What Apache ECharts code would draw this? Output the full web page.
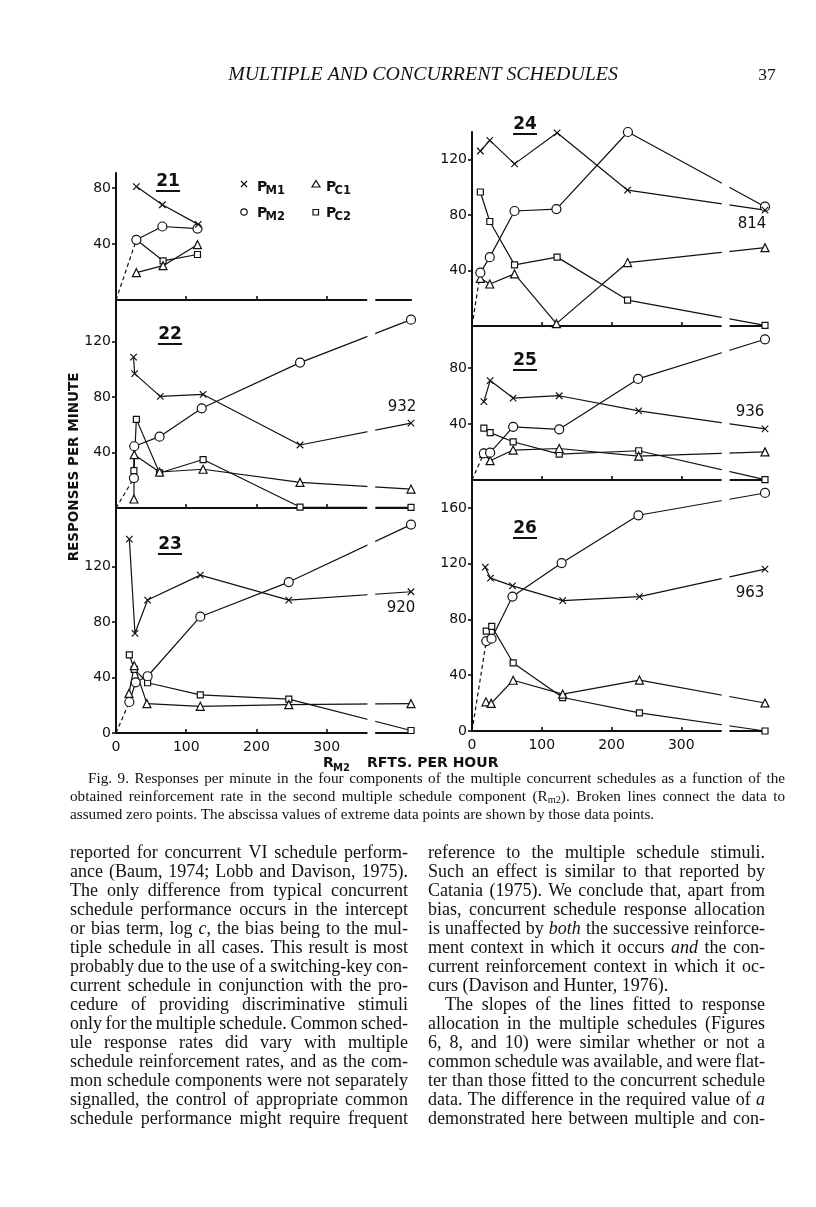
<!DOCTYPE html>
<html><head><meta charset="utf-8">
<script src="https://cdn.jsdelivr.net/npm/echarts@6/dist/echarts.min.js"></script>
<style>html,body{margin:0;padding:0;background:#fff}#c{width:816px;height:1207px}</style>
</head><body><div id="c"></div>
<script>
// ---------------- DATA ----------------
const panelIds = ['21', '22', '23', '24', '25', '26'];
const seriesNames = ['PM1', 'PM2', 'PC1', 'PC2'];
const xTickValues = [100, 200, 300];
const xLabelValues = [0, 100, 200, 300];
const yTicks21 = [40, 80];
const yTicks22 = [40, 80, 120];
const yTicks23 = [0, 40, 80, 120];
const yTicks24 = [40, 80, 120];
const yTicks25 = [40, 80];
const yTicks26 = [0, 40, 80, 120, 160];
const extremeLabels = ['', '932', '920', '814', '936', '963'];

// [R_M2 (rfts/hr), responses/min]
const p21PM1 = [[29, 81], [66, 68], [117, 54]];
const p21PM2 = [[29, 43], [66, 52.5], [116, 51]];
const p21PC1 = [[29, 19.5], [67, 24.5], [116, 39.5]];
const p21PC2 = [[29, 43], [67, 28], [116, 32.5]];

const p22PM1 = [[25, 109], [26.5, 97], [63, 80.6], [124, 82], [262, 45.5], [420, 61.3]];
const p22PM2 = [[25.5, 21.6], [26, 44.6], [62, 51.5], [122, 72], [262, 105], [420, 136]];
const p22PC1 = [[25.5, 6.5], [26, 38.5], [62, 26], [124, 28], [262, 18.5], [420, 13.7]];
const p22PC2 = [[25.5, 27], [29, 64], [62, 25.3], [124, 35], [262, 0.7], [420, 0.5]];

const p23PM1 = [[19, 140], [27, 72], [45, 96], [120, 114], [246, 96], [420, 102]];
const p23PM2 = [[19, 22.4], [28, 36.6], [45, 41], [120, 84], [246, 109], [420, 150.5]];
const p23PC1 = [[18.5, 28.6], [26, 48.6], [44, 21.2], [120, 19.3], [246, 20.5], [420, 21.2]];
const p23PC2 = [[19, 56.4], [26, 46], [45, 36.3], [120, 27.5], [246, 24.5], [420, 1.8]];

const p24PM1 = [[12, 126.3], [25.5, 134], [61, 117], [122, 139.4], [223, 98], [420, 83.6]];
const p24PM2 = [[12, 38.5], [25.5, 49.7], [61, 83], [121, 84.4], [223.5, 140], [420, 86.1]];
const p24PC1 = [[12, 34.4], [25.5, 30.3], [61, 37.6], [121, 1.7], [223, 45.8], [420, 56.5]];
const p24PC2 = [[12, 96.7], [25.5, 75.4], [61, 44.1], [122, 49.7], [223, 18.7], [420, 0.5]];

const p25PM1 = [[17, 56], [26, 71], [59, 58.5], [125, 60.2], [239, 49.4], [420, 36.5]];
const p25PM2 = [[17, 19], [26, 19.5], [59, 38], [125, 36.2], [238, 72.2], [420, 100.5]];
const p25PC1 = [[17, 19], [26, 13.8], [59, 21.4], [125, 22.5], [239, 17], [420, 20.1]];
const p25PC2 = [[17, 37], [26, 33.8], [59, 27.3], [125, 18.5], [239, 20.9], [420, 0.3]];

const p26PM1 = [[19, 117.5], [26.5, 109.6], [58, 104.1], [130, 93.5], [240, 96.4], [420, 116.1]];
const p26PM2 = [[20.5, 64.5], [28, 66.2], [58, 96.4], [128.5, 120.4], [238.5, 154.7], [420, 170.7]];
const p26PC1 = [[20, 20.9], [27.5, 19.8], [59, 36.4], [130, 26.4], [240, 36.5], [420, 20.1]];
const p26PC2 = [[20.5, 71.6], [28.3, 75], [59, 48.8], [130, 24], [240, 13], [420, 0]];

const headerText = 'MULTIPLE AND CONCURRENT SCHEDULES';
const pageNumber = '37';
const yTitle = 'RESPONSES PER MINUTE';
const xTitleMain = 'R';
const xTitleSub = 'M2';
const xTitleRest = 'RFTS. PER HOUR';
const captionLines = [
  'Fig. 9. Responses per minute in the four components of the multiple concurrent schedules as a function of the',
  'obtained reinforcement rate in the second multiple schedule component (R_{m2}). Broken lines connect the data to',
  'assumed zero points. The abscissa values of extreme data points are shown by those data points.'
];
const bodyLeft = [
  'reported for concurrent VI schedule perform-',
  'ance (Baum, 1974; Lobb and Davison, 1975).',
  'The only difference from typical concurrent',
  'schedule performance occurs in the intercept',
  'or bias term, log *c*, the bias being to the mul-',
  'tiple schedule in all cases. This result is most',
  'probably due to the use of a switching-key con-',
  'current schedule in conjunction with the pro-',
  'cedure of providing discriminative stimuli',
  'only for the multiple schedule. Common sched-',
  'ule response rates did vary with multiple',
  'schedule reinforcement rates, and as the com-',
  'mon schedule components were not separately',
  'signalled, the control of appropriate common',
  'schedule performance might require frequent'
];
const bodyRight = [
  'reference to the multiple schedule stimuli.',
  'Such an effect is similar to that reported by',
  'Catania (1975). We conclude that, apart from',
  'bias, concurrent schedule response allocation',
  'is unaffected by *both* the successive reinforce-',
  'ment context in which it occurs *and* the con-',
  'current reinforcement context in which it oc-',
  'curs (Davison and Hunter, 1976).',
  'The slopes of the lines fitted to response',
  'allocation in the multiple schedules (Figures',
  '6, 8, and 10) were similar whether or not a',
  'common schedule was available, and were flat-',
  'ter than those fitted to the concurrent schedule',
  'data. The difference in the required value of *a*',
  'demonstrated here between multiple and con-'
];

// ---------------- LAYOUT (pixels / styles) ----------------
const panelData = [
  [p21PM1, p21PM2, p21PC1, p21PC2],
  [p22PM1, p22PM2, p22PC1, p22PC2],
  [p23PM1, p23PM2, p23PC1, p23PC2],
  [p24PM1, p24PM2, p24PC1, p24PC2],
  [p25PM1, p25PM2, p25PC1, p25PC2],
  [p26PM1, p26PM2, p26PC1, p26PC2]
];
const panelTicks = [yTicks21, yTicks22, yTicks23, yTicks24, yTicks25, yTicks26];
const layout = [
  {left: 116, width: 295, top: 173, height: 127, yMax: 90.7, xLabels: false, num: [168, 182], lab: null},
  {left: 116, width: 295, top: 300, height: 208, yMax: 150.2, xLabels: false, num: [170, 335], lab: [402, 407]},
  {left: 116, width: 295, top: 508, height: 225, yMax: 162.5, xLabels: true, num: [170, 545], lab: [401, 608]},
  {left: 472, width: 293, top: 132, height: 194, yMax: 140, xLabels: false, num: [525, 125], lab: [752, 224]},
  {left: 472, width: 293, top: 326, height: 154, yMax: 110, xLabels: false, num: [525, 361], lab: [750, 412]},
  {left: 472, width: 293, top: 480, height: 251, yMax: 180, xLabels: true, num: [525, 529], lab: [750, 593]}
];
const BREAK_FROM = 358, BREAK_TO = 369;
const markerDefs = {
  PM1: {symbol: 'path://M0,0L10,10M10,0L0,10', size: 6.5},
  PM2: {symbol: 'circle', size: 9},
  PC1: {symbol: 'triangle', size: 8},
  PC2: {symbol: 'rect', size: 6}
};
const INK = '#111';
const SANS = '"DejaVu Sans"';
const SERIF = '"Liberation Serif"';

// ---------------- BUILD ----------------
const grids = [], xAxes = [], yAxes = [], series = [];
layout.forEach((L, i) => {
  grids.push({left: L.left, top: L.top, width: L.width, height: L.height, containLabel: false});
  xAxes.push({
    gridIndex: i, type: 'value', min: 0, max: 420,
    axisLine: {show: true, onZero: false, lineStyle: {color: INK, width: 2.2}},
    axisTick: {show: true, inside: true, length: 4, customValues: xTickValues, lineStyle: {color: INK, width: 1.6}},
    axisLabel: {show: L.xLabels, customValues: xLabelValues, color: INK, fontFamily: SANS, fontSize: 14, margin: 7},
    splitLine: {show: false}
  });
  yAxes.push({
    gridIndex: i, type: 'value', min: 0, max: L.yMax,
    axisLine: {show: true, onZero: false, lineStyle: {color: INK, width: 2}},
    axisTick: {show: true, inside: false, length: 4, customValues: panelTicks[i], lineStyle: {color: INK, width: 1.6}},
    axisLabel: {show: true, customValues: panelTicks[i], color: INK, fontFamily: SANS, fontSize: 14, margin: 5},
    splitLine: {show: false}
  });
  const data = panelData[i];
  // dashed line to the assumed zero point
  series.push({
    type: 'line', xAxisIndex: i, yAxisIndex: i, data: [[0, 0], data[1][0]],
    symbol: 'none', silent: true, animation: false, z: 2,
    lineStyle: {color: INK, width: 1.2, type: [4, 3]}
  });
  [3, 2, 1, 0].forEach(k => {
    const nm = seriesNames[k];
    const m = markerDefs[nm];
    series.push({
      name: nm, type: 'line', xAxisIndex: i, yAxisIndex: i, data: data[k],
      symbol: m.symbol, symbolSize: m.size, showSymbol: true, showAllSymbol: true,
      clip: false, animation: false, silent: true, z: 3,
      lineStyle: {color: INK, width: 1.2},
      itemStyle: {color: '#fff', borderColor: INK, borderWidth: 1.2},
      emphasis: {disabled: true}
    });
  });
  // axis break (gap before the extreme points)
  series.push({
    type: 'custom', xAxisIndex: i, yAxisIndex: i, data: [[BREAK_FROM, BREAK_TO]],
    z: 20, silent: true, animation: false, clip: false,
    renderItem: (params, api) => {
      const a = api.coord([api.value(0), L.yMax]);
      const b = api.coord([api.value(1), 0]);
      return {type: 'rect', shape: {x: a[0], y: a[1] - 3, width: b[0] - a[0], height: b[1] - a[1] + 6}, style: {fill: '#fff'}};
    }
  });
});

// ---------------- TEXT / GRAPHICS ----------------
const ctx = document.createElement('canvas').getContext('2d');
function txt(x, y, text, font, align, extra) {
  return Object.assign({type: 'text', x, y, silent: true, style: {
    text, font, fill: INK, align: align || 'left', verticalAlign: 'middle',
    textAlign: align || 'left', textVerticalAlign: 'middle'}}, extra || {});
}
function parseRuns(w) {
  const out = []; const re = /\*([^*]+)\*|_\{([^}]+)\}|([^*_]+)/g; let m;
  while ((m = re.exec(w))) {
    if (m[1] !== undefined) out.push({t: m[1], it: true});
    else if (m[2] !== undefined) out.push({t: m[2], sub: true});
    else out.push({t: m[3]});
  }
  return out;
}
function fnt(it, sz, fam) { return (it ? 'italic ' : '') + sz.toFixed(2) + 'px ' + fam; }
function runW(r, size, fam) { const sz = r.sub ? size * 0.68 : size; ctx.font = fnt(r.it, sz, fam); return ctx.measureText(r.t).width; }
function addLine(els, text, x0, x1, y, size, justify, fam) {
  const words = text.split(' ').filter(Boolean).map(parseRuns);
  const measure = s => words.map(rs => rs.reduce((a, r) => a + runW(r, s, fam), 0));
  let ww = measure(size);
  ctx.font = fnt(false, size, fam);
  let sp = ctx.measureText(' ').width;
  let sum = ww.reduce((a, b) => a + b, 0);
  const n = words.length;
  if (justify && n > 1 && (x1 - x0 - sum) / (n - 1) < sp * 0.6) {
    size = size * (x1 - x0) / (sum + sp * 0.9 * (n - 1));
    ww = measure(size); sum = ww.reduce((a, b) => a + b, 0);
    ctx.font = fnt(false, size, fam); sp = ctx.measureText(' ').width;
  }
  const gap = (justify && n > 1) ? (x1 - x0 - sum) / (n - 1) : sp;
  let x = x0;
  words.forEach(rs => {
    rs.forEach(r => {
      const sz = r.sub ? size * 0.68 : size;
      els.push(txt(x, y + (r.sub ? size * 0.22 : 0), r.t, fnt(r.it, sz, fam), 'left'));
      x += runW(r, size, fam);
    });
    x += gap;
  });
}

const g = [];
// header
(function () {
  ctx.font = fnt(true, 17, SERIF);
  const w = ctx.measureText(headerText).width;
  const fs = 17 * 390 / w;
  g.push(txt(423, 75, headerText, fnt(true, fs, SERIF), 'center'));
  g.push(txt(767, 75, pageNumber, fnt(false, 17.5, SERIF), 'center'));
})();
// panel numbers (underlined) and extreme labels
layout.forEach((L, i) => {
  g.push(txt(L.num[0], L.num[1], panelIds[i], 'bold 17px ' + SANS, 'center'));
  g.push({type: 'rect', silent: true, shape: {x: L.num[0] - 12, y: L.num[1] + 8, width: 24, height: 2}, style: {fill: INK}});
  if (L.lab) g.push(txt(L.lab[0], L.lab[1], extremeLabels[i], '15px ' + SANS, 'center'));
});
// legend
(function () {
  const st = {fill: '#fff', stroke: INK, lineWidth: 1.2};
  g.push({type: 'line', silent: true, shape: {x1: 241, y1: 181, x2: 247, y2: 187}, style: {stroke: INK, lineWidth: 1.3}});
  g.push({type: 'line', silent: true, shape: {x1: 247, y1: 181, x2: 241, y2: 187}, style: {stroke: INK, lineWidth: 1.3}});
  g.push({type: 'circle', silent: true, shape: {cx: 244, cy: 212, r: 3.2}, style: st});
  g.push({type: 'polygon', silent: true, shape: {points: [[316, 180.5], [320, 187], [312, 187]]}, style: st});
  g.push({type: 'rect', silent: true, shape: {x: 313, y: 209.5, width: 5.5, height: 5.5}, style: st});
  const items = [[257, 187, 'M1'], [257, 213, 'M2'], [326, 187, 'C1'], [326, 213, 'C2']];
  items.forEach(it => {
    g.push(txt(it[0], it[1], 'P', 'bold 14px ' + SANS, 'left'));
    g.push(txt(it[0] + 8.5, it[1] + 4, it[2], 'bold 11.5px ' + SANS, 'left'));
  });
})();
// axis titles
g.push(txt(74, 467, yTitle, 'bold 13.5px ' + SANS, 'center', {rotation: Math.PI / 2}));
g.push(txt(323, 763, xTitleMain, 'bold 14px ' + SANS, 'left'));
g.push(txt(333, 768, xTitleSub, 'bold 10px ' + SANS, 'left'));
g.push(txt(367, 763, xTitleRest, 'bold 14px ' + SANS, 'left'));
// caption
addLine(g, captionLines[0], 88, 785, 779, 15.2, true, SERIF);
addLine(g, captionLines[1], 70, 785, 797, 15.2, true, SERIF);
addLine(g, captionLines[2], 70, 785, 815, 15.2, false, SERIF);
// body text
bodyLeft.forEach((l, k) => addLine(g, l, 70, 408, 853 + 19 * k, 18, true, SERIF));
bodyRight.forEach((l, k) => addLine(g, l, k === 8 ? 445 : 428, 765, 853 + 19 * k, 18, k !== 7, SERIF));

const chart = echarts.init(document.getElementById('c'), null, {renderer: 'canvas'});
chart.setOption({
  backgroundColor: '#fff',
  animation: false,
  grid: grids, xAxis: xAxes, yAxis: yAxes, series: series,
  graphic: {elements: g}
});
</script></body></html>
